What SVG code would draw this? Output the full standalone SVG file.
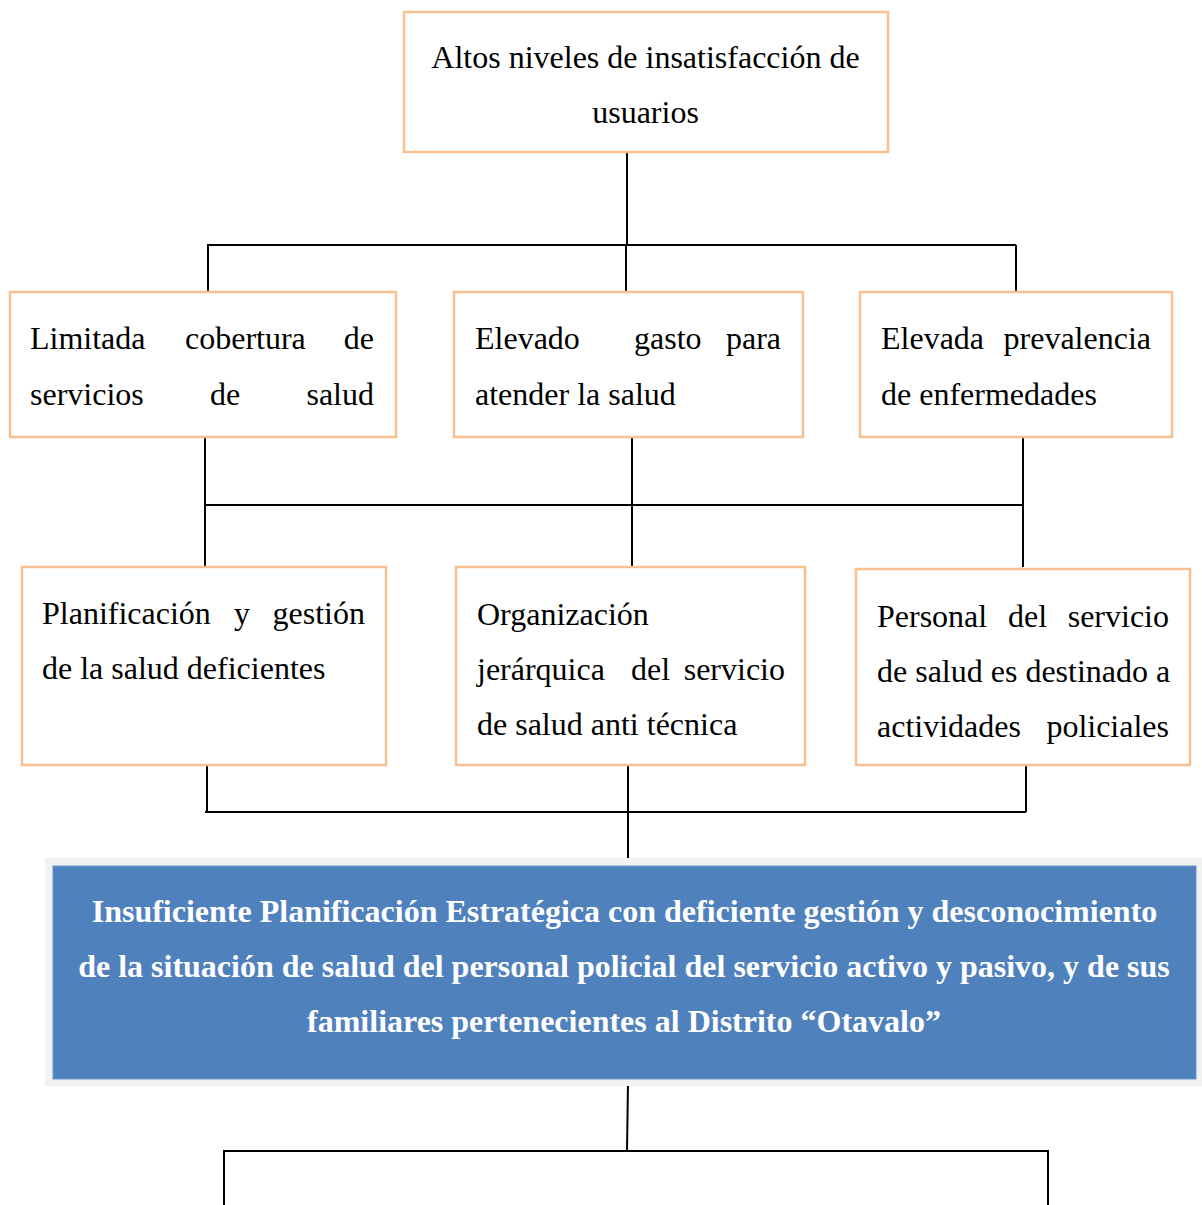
<svg xmlns="http://www.w3.org/2000/svg" width="1202" height="1205" viewBox="0 0 1202 1205">
<style>
.box{fill:#ffffff;stroke:#F9C08F;stroke-width:2.5}
.t{font-family:"Liberation Serif","Times New Roman",serif;font-size:32px;fill:#000}
.b{font-family:"Liberation Serif","Times New Roman",serif;font-size:32px;font-weight:bold;fill:#ffffff}
.c{stroke:#000;stroke-width:2;fill:none}
</style>
<rect width="1202" height="1205" fill="#ffffff"/>
<g id="connectors">
<path class="c" d="M627 152V245M207 245H1016M208 245V292M626 245V292M1016 245V292"/>
<path class="c" d="M205 437V567M632 437V567M1023 437V567M205 505H1023"/>
<path class="c" d="M207 765V812M628 765V862M1026 765V812M205 812H1026"/>
<path class="c" d="M628 1082L627 1151M223 1151H1049M224 1151V1205M1048 1151V1205"/>
</g>
<g id="n-top">
<rect class="box" x="404" y="12" width="484" height="140"/>
<text class="t" x="645.5" y="68" text-anchor="middle">Altos niveles de insatisfacción de</text>
<text class="t" x="645.5" y="123" text-anchor="middle">usuarios</text>
</g>
<g id="n-limitada">
<rect class="box" x="10" y="292" width="386" height="145"/>
<text class="t" y="349"><tspan x="30">Limitada</tspan><tspan x="185">cobertura</tspan></text>
<text class="t" x="374" y="349" text-anchor="end">de</text>
<text class="t" y="405"><tspan x="30">servicios</tspan><tspan x="210">de</tspan></text>
<text class="t" x="374" y="405" text-anchor="end">salud</text>
</g>
<g id="n-elevado">
<rect class="box" x="454" y="292" width="349" height="145"/>
<text class="t" y="349"><tspan x="475">Elevado</tspan><tspan x="634">gasto</tspan></text>
<text class="t" x="781" y="349" text-anchor="end">para</text>
<text class="t" x="475" y="405">atender la salud</text>
</g>
<g id="n-prevalencia">
<rect class="box" x="860" y="292" width="312" height="145"/>
<text class="t" x="881" y="349">Elevada</text>
<text class="t" x="1151" y="349" text-anchor="end">prevalencia</text>
<text class="t" x="881" y="405">de enfermedades</text>
</g>
<g id="n-planificacion">
<rect class="box" x="22" y="567" width="364" height="198"/>
<text class="t" y="624"><tspan x="42">Planificación</tspan><tspan x="234">y</tspan></text>
<text class="t" x="365" y="624" text-anchor="end">gestión</text>
<text class="t" x="42" y="679">de la salud deficientes</text>
</g>
<g id="n-organizacion">
<rect class="box" x="456" y="567" width="349" height="198"/>
<text class="t" x="477" y="625">Organización</text>
<text class="t" y="680"><tspan x="477">jerárquica</tspan><tspan x="631">del</tspan></text>
<text class="t" x="785" y="680" text-anchor="end">servicio</text>
<text class="t" x="477" y="735">de salud anti técnica</text>
</g>
<g id="n-personal">
<rect class="box" x="856" y="569" width="334" height="196"/>
<text class="t" y="627"><tspan x="877">Personal</tspan><tspan x="1008">del</tspan></text>
<text class="t" x="1169" y="627" text-anchor="end">servicio</text>
<text class="t" x="877" y="682">de salud es destinado a</text>
<text class="t" x="877" y="737">actividades</text>
<text class="t" x="1169" y="737" text-anchor="end">policiales</text>
</g>
<g id="n-problema">
<rect x="45" y="858" width="1157" height="228" fill="#F2F2F2"/>
<rect x="53" y="866" width="1143" height="213" fill="#4F81BD" stroke="#6A95C9" stroke-width="1"/>
<text class="b" x="624.5" y="922" text-anchor="middle">Insuficiente Planificación Estratégica con deficiente gestión y desconocimiento</text>
<text class="b" x="624" y="977" text-anchor="middle">de la situación de salud del personal policial del servicio activo y pasivo, y de sus</text>
<text class="b" x="624" y="1032" text-anchor="middle">familiares pertenecientes al Distrito “Otavalo”</text>
</g>
</svg>
